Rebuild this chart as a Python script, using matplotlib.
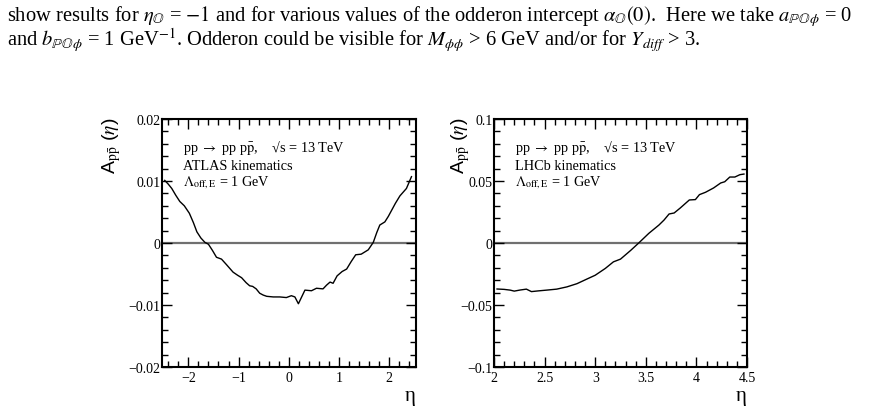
import matplotlib.pyplot as plt
from matplotlib.ticker import MultipleLocator, FixedLocator, FixedFormatter

plt.rcParams["font.family"] = ["Liberation Serif", "DejaVu Serif"]
plt.rcParams["mathtext.fontset"] = "stix"

# ATLAS kinematics (left panel)
eta_atlas = [-2.47, -2.40, -2.33, -2.25, -2.17, -2.08, -1.98, -1.90, -1.83, -1.75,
             -1.67, -1.60, -1.52, -1.44, -1.34, -1.24, -1.11, -1.02, -0.94, -0.85,
             -0.78, -0.72, -0.65, -0.58, -0.51, -0.44, -0.31, -0.18, -0.05, 0.05,
             0.12, 0.19, 0.32, 0.45, 0.55, 0.68, 0.75, 0.82, 0.88, 0.96,
             1.06, 1.15, 1.24, 1.33, 1.44, 1.58, 1.68, 1.75, 1.81, 1.91,
             1.98, 2.04, 2.12, 2.21, 2.34, 2.44]
asym_atlas = [0.0101, 0.0095, 0.0088, 0.0077, 0.0067, 0.0060, 0.0048, 0.0033, 0.0018, 0.0008,
              0.0001, -0.0002, -0.0012, -0.0023, -0.0026, -0.0035, -0.0047, -0.0052, -0.0056, -0.0064,
              -0.0069, -0.0070, -0.0074, -0.0081, -0.0084, -0.0086, -0.0087, -0.0087, -0.0088, -0.0085,
              -0.0087, -0.0098, -0.0076, -0.0077, -0.0073, -0.0074, -0.0068, -0.0063, -0.0065, -0.0053,
              -0.0046, -0.0042, -0.0030, -0.0019, -0.0018, -0.0011, 0.0001, 0.0017, 0.0029, 0.0034,
              0.0043, 0.0052, 0.0064, 0.0076, 0.0088, 0.0107]

# LHCb kinematics (right panel)
eta_lhcb = [2.03, 2.10, 2.16, 2.20, 2.26, 2.32, 2.37, 2.44, 2.52, 2.62,
            2.72, 2.82, 2.92, 3.00, 3.10, 3.18, 3.25, 3.35, 3.43, 3.53,
            3.63, 3.68, 3.73, 3.78, 3.84, 3.93, 3.99, 4.03, 4.09, 4.17,
            4.24, 4.28, 4.33, 4.38, 4.43, 4.47]
asym_lhcb = [-0.0371, -0.0374, -0.0380, -0.0388, -0.0379, -0.0372, -0.0392, -0.0386, -0.0380, -0.0372,
             -0.0354, -0.0328, -0.0290, -0.0260, -0.0205, -0.0152, -0.0130, -0.0060, 0.0000, 0.0078,
             0.0145, 0.0185, 0.0234, 0.0242, 0.0282, 0.0347, 0.0350, 0.0390, 0.0409, 0.0444,
             0.0484, 0.0494, 0.0532, 0.0532, 0.0551, 0.0556]

xticks_atlas = [-2, -1, 0, 1, 2]
xlabels_atlas = ["\u22122", "\u22121", "0", "1", "2"]
yticks_atlas = [-0.02, -0.01, 0, 0.01, 0.02]
ylabels_atlas = ["\u22120.02", "\u22120.01", "0", "0.01", "0.02"]
xticks_lhcb = [2, 2.5, 3, 3.5, 4, 4.5]
xlabels_lhcb = ["2", "2.5", "3", "3.5", "4", "4.5"]
yticks_lhcb = [-0.1, -0.05, 0, 0.05, 0.1]
ylabels_lhcb = ["\u22120.1", "\u22120.05", "0", "0.05", "0.1"]

caption = [
    r"show results for $\eta_{\mathbb{O}}$ = $-1$ and for various values of the odderon "
    r"intercept $\alpha_{\mathbb{O}}(0)$.  Here we take $a_{\mathbb{PO}\phi}$ = 0",
    r"and $b_{\mathbb{PO}\phi}$ = 1 GeV$^{-1}$. Odderon could be visible for "
    r"$M_{\phi\phi}$ > 6 GeV and/or for $Y_{diff}$ > 3.",
]

W, H = 870, 414
fig = plt.figure(figsize=(W / 100, H / 100), dpi=100)

for i, line in enumerate(caption):
    fig.text(7 / W, 1 - (21 + 25 * i) / H, line, fontsize=14.8, ha="left", va="baseline")


def setup(ax, xlim, ylim, xticks, xlabels, xmin, yticks, ylabels, ymin, kin, ylab_x):
    ax.set_xlim(*xlim)
    ax.set_ylim(*ylim)
    ax.xaxis.set_major_locator(FixedLocator(xticks))
    ax.xaxis.set_major_formatter(FixedFormatter(xlabels))
    ax.xaxis.set_minor_locator(MultipleLocator(xmin))
    ax.yaxis.set_major_locator(FixedLocator(yticks))
    ax.yaxis.set_major_formatter(FixedFormatter(ylabels))
    ax.yaxis.set_minor_locator(MultipleLocator(ymin))
    ax.tick_params(which="both", direction="in", top=True, right=True, labelsize=10)
    ax.tick_params(which="major", length=7, width=1)
    ax.tick_params(which="minor", length=4, width=1)
    ax.tick_params(axis="y", pad=1)
    ax.tick_params(axis="x", pad=3)
    for sp in ax.spines.values():
        sp.set_linewidth(1.5)
    ax.axhline(0, color="#707070", lw=1.6, zorder=1)
    ax.text(1.0, -0.115, "\u03b7", transform=ax.transAxes, ha="right", va="center", fontsize=15)
    ax.text(ylab_x, 1.01, r"A$_{\mathrm{p}\bar{\mathrm{p}}}$ ($\eta$)", transform=ax.transAxes,
            rotation=90, ha="center", va="top", fontsize=14, family=["Liberation Sans"])
    ax.text(0.084, 0.871, r"pp $\rightarrow$ pp p$\bar{\mathrm{p}}$,    " + "\u221as = 13 TeV",
            transform=ax.transAxes, fontsize=10.3, va="baseline")
    ax.text(0.084, 0.798, kin, transform=ax.transAxes, fontsize=10.3, va="baseline")
    ax.text(0.084, 0.733, r"$\Lambda_{\mathrm{off,E}}$ = 1 GeV", transform=ax.transAxes,
            fontsize=10.3, va="baseline")


ax1 = fig.add_axes([161.7 / W, 1 - 368 / H, 254.3 / W, 248 / H])
ax1.plot(eta_atlas, asym_atlas, color="black", lw=1.0)
setup(ax1, (-2.53, 2.53), (-0.02, 0.02), xticks_atlas, xlabels_atlas, 0.2,
      yticks_atlas, ylabels_atlas, 0.002, "ATLAS kinematics", -0.196)

ax2 = fig.add_axes([494 / W, 1 - 368 / H, 253 / W, 248 / H])
ax2.plot(eta_lhcb, asym_lhcb, color="black", lw=1.0)
setup(ax2, (2.0, 4.5), (-0.1, 0.1), xticks_lhcb, xlabels_lhcb, 0.1,
      yticks_lhcb, ylabels_lhcb, 0.01, "LHCb kinematics", -0.134)

fig.savefig("out.png", dpi=100)
